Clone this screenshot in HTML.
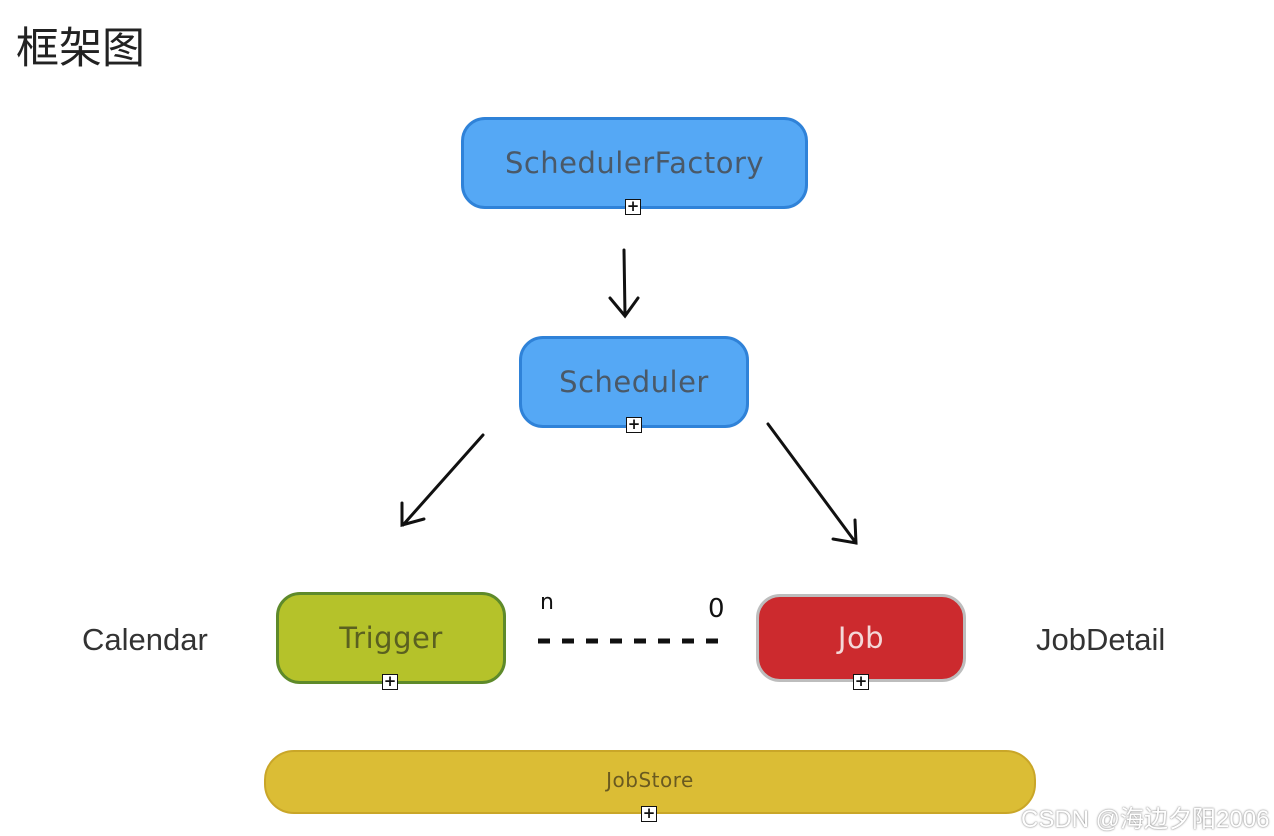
<!DOCTYPE html>
<html><head><meta charset="utf-8"><style>
body{margin:0;width:1274px;height:836px;background:#fff;position:relative;overflow:hidden;font-family:"Liberation Sans","Noto Sans CJK SC",sans-serif}
.b{position:absolute;box-sizing:border-box;display:flex;align-items:center;justify-content:center;font-family:"DejaVu Sans","Liberation Sans",sans-serif;letter-spacing:0.5px}
.p{position:absolute;width:16px;height:16px;box-sizing:border-box;border:1.5px solid #111;background:#fff;font:bold 15px/13px "DejaVu Sans",sans-serif;text-align:center;color:#111}
.t{position:absolute;white-space:nowrap}
</style></head><body>
<div class="t" style="left:16px;top:14px;font-size:43px;color:#222">框架图</div>

<div class="b" style="left:461px;top:117px;width:347px;height:92px;background:#55a8f5;border:3px solid #2f82d8;border-radius:24px;color:#4a5968;font-size:29px">SchedulerFactory</div>
<div class="p" style="left:625px;top:199px">+</div>

<div class="b" style="left:519px;top:336px;width:230px;height:92px;background:#55a8f5;border:3px solid #2f82d8;border-radius:24px;color:#4a5968;font-size:29px">Scheduler</div>
<div class="p" style="left:626px;top:417px">+</div>

<div class="b" style="left:276px;top:592px;width:230px;height:92px;background:#b5c22a;border:3px solid #5e8a2a;border-radius:24px;color:#5a6020;font-size:29px">Trigger</div>
<div class="p" style="left:382px;top:674px">+</div>

<div class="b" style="left:756px;top:594px;width:210px;height:88px;background:#cc2a2e;border:3px solid #bdbdbd;border-radius:24px;color:#f4d8d8;font-size:29px">Job</div>
<div class="p" style="left:853px;top:674px">+</div>

<div class="b" style="left:264px;top:750px;width:772px;height:64px;background:#dbbd35;border:2px solid #c9a628;border-radius:30px;color:#6a5a20;font-size:20px;padding-bottom:4px">JobStore</div>
<div class="p" style="left:641px;top:806px">+</div>

<div class="t" style="left:82px;top:622px;font-size:31px;color:#333">Calendar</div>
<div class="t" style="left:1036px;top:622px;font-size:31px;color:#333">JobDetail</div>
<div class="t" style="left:540px;top:590px;font-size:22px;color:#111;font-family:'DejaVu Sans',sans-serif">n</div>
<div class="t" style="left:708px;top:594px;font-size:26px;color:#111;font-family:'DejaVu Sans',sans-serif">0</div>

<svg style="position:absolute;left:0;top:0" width="1274" height="836">
<g stroke="#111" stroke-width="3" fill="none" stroke-linecap="round">
<path d="M624 250 L625 315 M610 298 L625 316 L638 298"/>
<path d="M483 435 L403 525 M402 503 L402 525 L424 519"/>
<path d="M768 424 L856 543 M833 539 L856 543 L855 520"/>
<path d="M538 641 L720 641" stroke-width="5" stroke-dasharray="12 12" stroke-linecap="butt"/>
</g>
</svg>

<div class="t" style="left:1021px;top:799px;font-size:24px;color:#fff;text-shadow:0 0 2px #888,0 0 1px #999">CSDN @海边夕阳2006</div>
</body></html>
